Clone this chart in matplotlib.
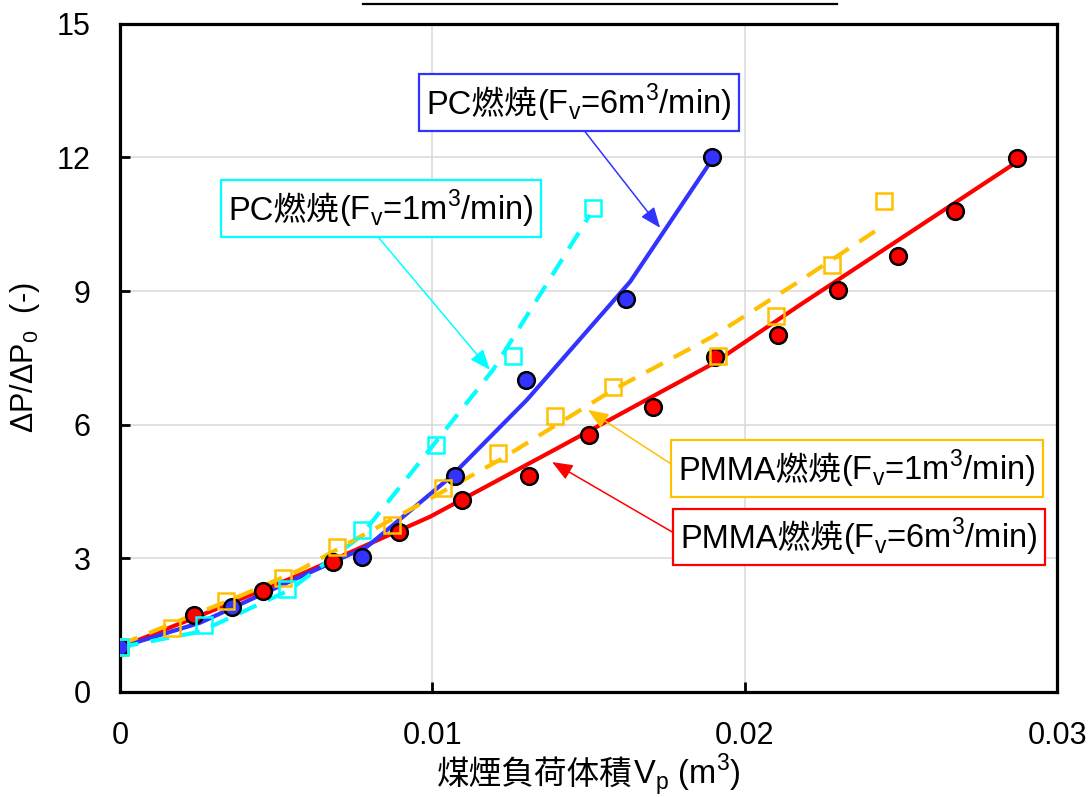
import matplotlib
matplotlib.use("Agg")
import matplotlib.pyplot as plt
from matplotlib.lines import Line2D
from matplotlib.offsetbox import TextArea, HPacker, AnnotationBbox

plt.rcParams['font.family'] = ['Liberation Sans', 'Noto Sans CJK JP']

# ---- data ----
# PMMA, Fv = 6 m3/min (red circles) and its trend line
pmma6_x = [0, 0.00237, 0.00458, 0.00682, 0.00893, 0.01095, 0.01309, 0.01501,
           0.01706, 0.01905, 0.02106, 0.02298, 0.0249, 0.02673, 0.02871]
pmma6_y = [1.0, 1.73, 2.27, 2.92, 3.59, 4.31, 4.85, 5.77,
           6.40, 7.52, 8.02, 9.03, 9.79, 10.80, 11.99]
pmma6_line_x = [0, 0.00256, 0.00576, 0.00992, 0.01408, 0.01898, 0.02177, 0.02871]
pmma6_line_y = [1.0, 1.71, 2.63, 3.93, 5.50, 7.37, 8.69, 11.90]

# PC, Fv = 6 m3/min (blue circles) and its trend line
pc6_x = [0, 0.00359, 0.00775, 0.01072, 0.01300, 0.0162, 0.01895]
pc6_y = [1.0, 1.91, 3.03, 4.85, 7.01, 8.83, 12.01]
pc6_line_x = [0, 0.00256, 0.00535, 0.00791, 0.01056, 0.01303, 0.01633, 0.01895]
pc6_line_y = [1.0, 1.55, 2.45, 3.26, 4.81, 6.56, 9.21, 11.95]

# PC, Fv = 1 m3/min (cyan squares) and its trend line
pc1_x = [0, 0.00269, 0.00535, 0.00775, 0.01011, 0.01258, 0.01514]
pc1_y = [1.0, 1.50, 2.31, 3.64, 5.55, 7.55, 10.87]
pc1_line_x = [0, 0.00256, 0.00544, 0.00768, 0.00896, 0.01194, 0.01504]
pc1_line_y = [1.0, 1.35, 2.29, 3.48, 4.60, 7.23, 10.71]

# PMMA, Fv = 1 m3/min (orange squares) and its trend line
pmma1_x = [0, 0.00166, 0.00339, 0.00522, 0.00695, 0.00871, 0.01034, 0.0121,
           0.01392, 0.01578, 0.01914, 0.021, 0.02279, 0.02446]
pmma1_y = [1.01, 1.44, 2.04, 2.56, 3.26, 3.75, 4.58, 5.37,
           6.20, 6.85, 7.55, 8.44, 9.59, 11.03]
pmma1_line_x = [0, 0.00096, 0.00394, 0.00576, 0.00768, 0.0097, 0.01216,
                0.01578, 0.01895, 0.0217, 0.02442]
pmma1_line_y = [1.06, 1.33, 2.18, 2.74, 3.48, 4.25, 5.21,
                6.78, 7.97, 9.20, 10.46]

x_ticks = [0, 0.01, 0.02, 0.03]
x_tick_labels = ['0', '0.01', '0.02', '0.03']
y_ticks = [0, 3, 6, 9, 12, 15]

RED = '#FF0000'
BLUE = '#3333FF'
CYAN = '#00FFFF'
ORANGE = '#FFC000'
FS = 22
FS_BOX = 23.5

fig = plt.figure(figsize=(10.91, 7.97), dpi=100)
ax = fig.add_axes([0.110, 0.132, 0.859, 0.838])

# lines
ax.plot(pmma6_line_x, pmma6_line_y, color=RED, lw=3, zorder=2)
ax.plot(pc6_line_x, pc6_line_y, color=BLUE, lw=3, zorder=2)
ax.plot(pc1_line_x, pc1_line_y, color=CYAN, lw=3, ls=(0, (4.5, 3)), zorder=2)
ax.plot(pmma1_line_x, pmma1_line_y, color=ORANGE, lw=3, ls=(0, (4.5, 3)), zorder=2)

# markers
ax.plot(pmma6_x, pmma6_y, ls='none', marker='o', ms=12, mfc=RED, mec='black', mew=1.8, zorder=3)
ax.plot(pc6_x, pc6_y, ls='none', marker='o', ms=12, mfc=BLUE, mec='black', mew=1.8, zorder=4)
ax.plot(pmma1_x, pmma1_y, ls='none', marker='s', ms=11.5, mfc='none', mec=ORANGE, mew=1.8, zorder=5)
ax.plot(pc1_x, pc1_y, ls='none', marker='s', ms=11.5, mfc='none', mec=CYAN, mew=1.8, zorder=5)

ax.set_xlim(0, 0.03)
ax.set_ylim(0, 15)
ax.set_xticks(x_ticks)
ax.set_xticklabels(x_tick_labels)
ax.set_yticks(y_ticks)
ax.tick_params(direction='in', length=7, width=2, labelsize=FS, pad=21)
ax.grid(True, color='#D9D9D9', lw=1.1)
ax.set_axisbelow(True)
for sp in ax.spines.values():
    sp.set_linewidth(2.3)
    sp.set_color('black')

ax.set_ylabel(r'ΔP/ΔP$_\mathregular{0}$  (-)', fontsize=FS, labelpad=11)


def label_box(jp, rest, size):
    parts = [TextArea(jp, textprops=dict(fontsize=size)),
             TextArea(rest, textprops=dict(fontsize=size))]
    return HPacker(children=parts, pad=0, sep=0, align='baseline')


# x axis label (CJK + math, packed side by side)
xl = AnnotationBbox(label_box('煤煙負荷体積', r'V$_\mathregular{p}$ (m$^\mathregular{3}$)', FS_BOX),
                    (0.5, -0.123), xycoords='axes fraction', frameon=False,
                    box_alignment=(0.5, 0.5), annotation_clip=False)
ax.add_artist(xl)

# callouts: (japanese, rest, color, box centre, arrow head, relpos)
callouts = [
    ('PC燃焼', r'(F$_\mathregular{v}$=6m$^\mathregular{3}$/min)', BLUE,
     (0.01469, 13.23), (0.01729, 10.42), (0.5, 0.0)),
    ('PC燃焼', r'(F$_\mathregular{v}$=1m$^\mathregular{3}$/min)', CYAN,
     (0.00836, 10.85), (0.01184, 7.23), (0.47, 0.0)),
    ('PMMA燃焼', r'(F$_\mathregular{v}$=1m$^\mathregular{3}$/min)', ORANGE,
     (0.02359, 5.01), (0.01498, 6.33), (0.0, 0.5)),
    ('PMMA燃焼', r'(F$_\mathregular{v}$=6m$^\mathregular{3}$/min)', RED,
     (0.02366, 3.48), (0.01383, 5.16), (0.0, 0.5)),
]
for jp, rest, col, centre, head, rp in callouts:
    ab = AnnotationBbox(label_box(jp, rest, FS_BOX), head, xybox=centre,
                        xycoords='data', boxcoords='data', fontsize=FS_BOX, pad=0.22,
                        bboxprops=dict(edgecolor=col, facecolor='white', lw=1.6),
                        arrowprops=dict(arrowstyle='-|>,head_length=0.45,head_width=0.18',
                                        color=col, lw=1.1, mutation_scale=20,
                                        shrinkA=0, shrinkB=0, relpos=rp),
                        zorder=6)
    ax.add_artist(ab)

# underline of a title that sits above the top edge
fig.add_artist(Line2D([363 / 1091, 837 / 1091], [1 - 3.5 / 797] * 2,
                      color='black', lw=1.6, transform=fig.transFigure))

fig.savefig('out.png', dpi=100)
